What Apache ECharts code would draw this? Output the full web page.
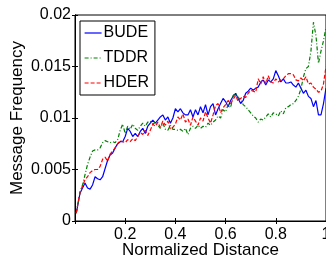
<!DOCTYPE html>
<html>
<head>
<meta charset="utf-8">
<script src="https://cdn.jsdelivr.net/npm/echarts@6/dist/echarts.min.js"></script>
<style>
	html, body { margin: 0; padding: 0; background: #fff; }
	#chart { width: 326px; height: 257px; }
</style>
</head>
<body>
<div id="chart"></div>
<script>
// normalized distance samples
var distance = [0.005, 0.02, 0.03, 0.04, 0.05, 0.06, 0.07, 0.08, 0.09, 0.10,
	0.11, 0.12, 0.13, 0.14, 0.15, 0.16, 0.17, 0.18, 0.19, 0.20,
	0.21, 0.22, 0.23, 0.24, 0.25, 0.26, 0.27, 0.28, 0.29, 0.30,
	0.31, 0.32, 0.33, 0.34, 0.35, 0.36, 0.37, 0.38, 0.39, 0.40,
	0.41, 0.42, 0.43, 0.44, 0.45, 0.46, 0.47, 0.48, 0.49, 0.50,
	0.51, 0.52, 0.53, 0.54, 0.55, 0.56, 0.57, 0.58, 0.59, 0.60,
	0.61, 0.62, 0.63, 0.64, 0.65, 0.66, 0.67, 0.68, 0.69, 0.70,
	0.71, 0.72, 0.73, 0.74, 0.75, 0.76, 0.77, 0.78, 0.79, 0.80,
	0.81, 0.82, 0.83, 0.84, 0.85, 0.86, 0.87, 0.88, 0.89, 0.90,
	0.91, 0.92, 0.93, 0.94, 0.95, 0.96, 0.97, 0.98, 0.99, 1.00];

var bude = [0.00075, 0.0027, 0.0032, 0.0037, 0.0032, 0.0031, 0.0035, 0.0043, 0.0041, 0.0040,
	0.0043, 0.0051, 0.0059, 0.0064, 0.0066, 0.0071, 0.0075, 0.0077, 0.0077, 0.0082,
	0.0090, 0.0087, 0.0082, 0.0085, 0.0082, 0.0087, 0.0090, 0.0085, 0.0092, 0.0095,
	0.0098, 0.0095, 0.0098, 0.0101, 0.0103, 0.0098, 0.0101, 0.0095, 0.0100, 0.0109,
	0.0106, 0.0109, 0.0105, 0.0103, 0.0103, 0.0108, 0.0101, 0.0108, 0.0103, 0.0111,
	0.0105, 0.0113, 0.0103, 0.0111, 0.0114, 0.0103, 0.0109, 0.0114, 0.0119, 0.0116,
	0.0111, 0.0117, 0.0121, 0.0124, 0.0119, 0.0114, 0.0117, 0.0124, 0.0126, 0.0129,
	0.0127, 0.0129, 0.0130, 0.0135, 0.0137, 0.0132, 0.0137, 0.0135, 0.0138, 0.0146,
	0.0141, 0.0135, 0.0138, 0.0134, 0.0134, 0.0135, 0.0132, 0.0130, 0.0134, 0.0129,
	0.0124, 0.0127, 0.0121, 0.0119, 0.0111, 0.0117, 0.0103, 0.0103, 0.0114, 0.0129];

var tddr = [0.0008, 0.0028, 0.0035, 0.0045, 0.0055, 0.0062, 0.0068, 0.0069, 0.0069, 0.0071,
	0.0076, 0.0078, 0.0077, 0.0076, 0.0077, 0.0076, 0.0079, 0.0088, 0.0094, 0.0085,
	0.0092, 0.0089, 0.0094, 0.0090, 0.0088, 0.0092, 0.0095, 0.0092, 0.0096, 0.0097,
	0.0094, 0.0096, 0.0093, 0.0090, 0.0095, 0.0089, 0.0088, 0.0093, 0.0089, 0.0089,
	0.0088, 0.0089, 0.0087, 0.0090, 0.0084, 0.0090, 0.0092, 0.0090, 0.0093, 0.0090,
	0.0092, 0.0091, 0.0095, 0.0093, 0.0096, 0.0098, 0.0102, 0.0100, 0.0108, 0.0106,
	0.0113, 0.0110, 0.0122, 0.0124, 0.0120, 0.0118, 0.0113, 0.0111, 0.0108, 0.0105,
	0.0102, 0.0100, 0.0096, 0.0099, 0.0098, 0.0101, 0.0104, 0.0101, 0.0105, 0.0104,
	0.0102, 0.0107, 0.0104, 0.0110, 0.0111, 0.0113, 0.0114, 0.0117, 0.0121, 0.0128,
	0.0140, 0.0148, 0.0150, 0.0165, 0.0193, 0.0180, 0.0153, 0.0165, 0.0175, 0.0188];

var hder = [0.0008, 0.0028, 0.0034, 0.0040, 0.0043, 0.0047, 0.0049, 0.0050, 0.0050, 0.0053,
	0.0060, 0.0062, 0.0058, 0.0065, 0.0068, 0.0071, 0.0075, 0.0078, 0.0077, 0.0076,
	0.0079, 0.0077, 0.0080, 0.0078, 0.0082, 0.0086, 0.0084, 0.0088, 0.0083, 0.0088,
	0.0094, 0.0092, 0.0096, 0.0091, 0.0097, 0.0093, 0.0097, 0.0089, 0.0091, 0.0094,
	0.0101, 0.0098, 0.0104, 0.0096, 0.0099, 0.0093, 0.0101, 0.0097, 0.0093, 0.0100,
	0.0097, 0.0106, 0.0100, 0.0095, 0.0103, 0.0112, 0.0114, 0.0105, 0.0110, 0.0113,
	0.0117, 0.0114, 0.0118, 0.0122, 0.0116, 0.0119, 0.0121, 0.0120, 0.0124, 0.0127,
	0.0126, 0.0125, 0.0138, 0.0133, 0.0140, 0.0133, 0.0141, 0.0135, 0.0134, 0.0138,
	0.0135, 0.0137, 0.0138, 0.0141, 0.0143, 0.0143, 0.0142, 0.0137, 0.0136, 0.0139,
	0.0136, 0.0140, 0.0133, 0.0134, 0.0130, 0.0128, 0.0125, 0.0126, 0.0133, 0.0150];

var seriesNames = ['BUDE', 'TDDR', 'HDER'];
var seriesColors = ['#0000ff', '#008000', '#ff0000'];

function pairs(ys) {
	var out = [];
	for(var i = 0; i < ys.length; i++) {
		out.push([distance[i], ys[i]]);
	}
	return out;
}

var font = 'Liberation Sans, Arial, sans-serif';

var myChart = echarts.init(document.getElementById('chart'));
var option = {
	animation: false,
	grid: {
		left: 75,
		top: 15,
		right: 0,
		bottom: 36,
		outerBoundsMode: 'none',
		containLabel: false,
		show: true,
		borderColor: '#000',
		borderWidth: 1
	},
	legend: {
		orient: 'vertical',
		left: 80,
		top: 21,
		padding: [4, 6, 4, 4],
		itemWidth: 17,
		itemHeight: 14,
		itemGap: 9,
		backgroundColor: '#fff',
		borderColor: '#000',
		borderWidth: 1,
		itemStyle: { opacity: 0 },
		lineStyle: { width: 1.2 },
		textStyle: { color: '#000', fontSize: 16, fontFamily: font, padding: [0, 0, 0, -3] },
		data: seriesNames
	},
	xAxis: [{
		type: 'value',
		min: 0,
		max: 1,
		interval: 0.2,
		name: 'Normalized Distance',
		nameLocation: 'middle',
		nameMoveOverlap: false,
		nameGap: 21,
		nameTextStyle: { color: '#000', fontSize: 17, fontFamily: font },
		axisLine: { lineStyle: { color: '#000' } },
		axisTick: { inside: true, length: 3, lineStyle: { color: '#000' } },
		axisLabel: {
			color: '#000', fontSize: 16, fontFamily: font, margin: 6,
			formatter: function(v) { return v === 0 ? '' : String(v); }
		},
		splitLine: { show: false }
	}, {
		type: 'value',
		position: 'top',
		min: 0,
		max: 1,
		interval: 0.2,
		axisLine: { lineStyle: { color: '#000' } },
		axisTick: { inside: true, length: 3, lineStyle: { color: '#000' } },
		axisLabel: { show: false },
		splitLine: { show: false }
	}],
	yAxis: [{
		type: 'value',
		min: 0,
		max: 0.02,
		interval: 0.005,
		name: 'Message Frequency',
		nameLocation: 'middle',
		nameMoveOverlap: false,
		nameGap: 49,
		nameTextStyle: { color: '#000', fontSize: 17, fontFamily: font },
		axisLine: { lineStyle: { color: '#000' } },
		axisTick: { inside: true, length: 3, lineStyle: { color: '#000' } },
		axisLabel: { color: '#000', fontSize: 16, fontFamily: font, margin: 4 },
		splitLine: { show: false }
	}, {
		type: 'value',
		position: 'right',
		min: 0,
		max: 0.02,
		interval: 0.005,
		axisLine: { lineStyle: { color: '#000' } },
		axisTick: { inside: true, length: 3, lineStyle: { color: '#000' } },
		axisLabel: { show: false },
		splitLine: { show: false }
	}],
	series: [{
		name: 'BUDE',
		type: 'line',
		symbol: 'none',
		color: seriesColors[0],
		lineStyle: { width: 1.2, type: 'solid' },
		data: pairs(bude)
	}, {
		name: 'TDDR',
		type: 'line',
		symbol: 'none',
		color: seriesColors[1],
		lineStyle: { width: 1.2, type: [4, 2, 1, 2] },
		data: pairs(tddr)
	}, {
		name: 'HDER',
		type: 'line',
		symbol: 'none',
		color: seriesColors[2],
		lineStyle: { width: 1.2, type: [4, 2] },
		data: pairs(hder)
	}]
};
myChart.setOption(option);
</script>
</body>
</html>
